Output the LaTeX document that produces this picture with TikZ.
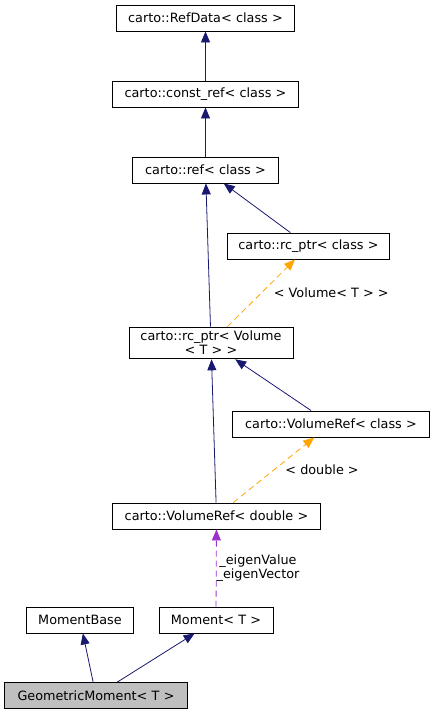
\documentclass[tikz,border=0pt]{standalone}
\usepackage{fontspec}
\setmainfont{DejaVu Sans}
\usetikzlibrary{arrows.meta}
\definecolor{midnight}{HTML}{191970}
\definecolor{tplorange}{HTML}{FFA500}
\definecolor{usedorchid}{HTML}{9A32CD}
\begin{document}
\begin{tikzpicture}[x=1pt, y=1pt, node distance=76pt,
                    class node/.style={rectangle, draw=black, line width=0.9pt, minimum height=26pt,
                                       inner xsep=2pt, inner ysep=4pt, align=center,
                                       font=\fontsize{12.8}{14}\selectfont},
                    inherit/.style={draw=midnight, line width=0.8pt, -{Triangle[length=11pt,width=9pt]}},
                    templ/.style={draw=tplorange, line width=0.8pt, dash pattern=on 6pt off 4pt,
                                  -{Triangle[length=11pt,width=9pt]}},
                    usage/.style={draw=usedorchid, line width=0.8pt, dash pattern=on 6pt off 4pt,
                                  -{Triangle[length=11pt,width=9pt]}}]
  \useasboundingbox (0,0) rectangle (435,715);

  \node[class node, text width=174pt] (refdata) at (205.5,697) {carto::RefData< class >};
  \node[class node, text width=182pt] (constref) [below of=refdata] {carto::const\_ref< class >};
  \node[class node, text width=142pt] (ref) [below of=constref] {carto::ref< class >};
  \node[class node, text width=158pt] (rcclass) at (308.5,469) {carto::rc\_ptr< class >};
  \node[class node, text width=160pt] (rcvolume) at (211,372) {carto::rc\_ptr< Volume\\< T > >};
  \node[class node, text width=193pt] (vrclass) at (331,291) {carto::VolumeRef< class >};
  \node[class node, text width=204pt] (vrdouble) at (216.5,199) {carto::VolumeRef< double >};
  \node[class node, text width=103pt] (momentbase) at (80,95) {MomentBase};
  \node[class node, text width=110pt] (moment) at (216,95) {Moment< T >};
  \node[class node, text width=179pt, fill=black!25] (geometric) at (96,19.5) {GeometricMoment< T >};

  \path[every node/.style={font=\fontsize{12.8}{14}\selectfont, align=center}]
    (constref) edge[inherit] (refdata)
    (ref) edge[inherit] (constref)
    (rcclass) edge[inherit] (ref)
    (rcvolume) edge[inherit] (ref)
               edge[templ] node[right, xshift=9pt] {< Volume< T > >} (rcclass)
    (vrclass) edge[inherit] (rcvolume)
    (vrdouble) edge[inherit] (rcvolume)
               edge[templ] node[right, xshift=8pt] {< double >} (vrclass)
    (moment) edge[usage] node[right, inner xsep=0pt] {\_eigenValue\\\_eigenVector} (vrdouble)
    (geometric) edge[inherit] (momentbase)
                edge[inherit] (moment)
    ;
\end{tikzpicture}
\end{document}
